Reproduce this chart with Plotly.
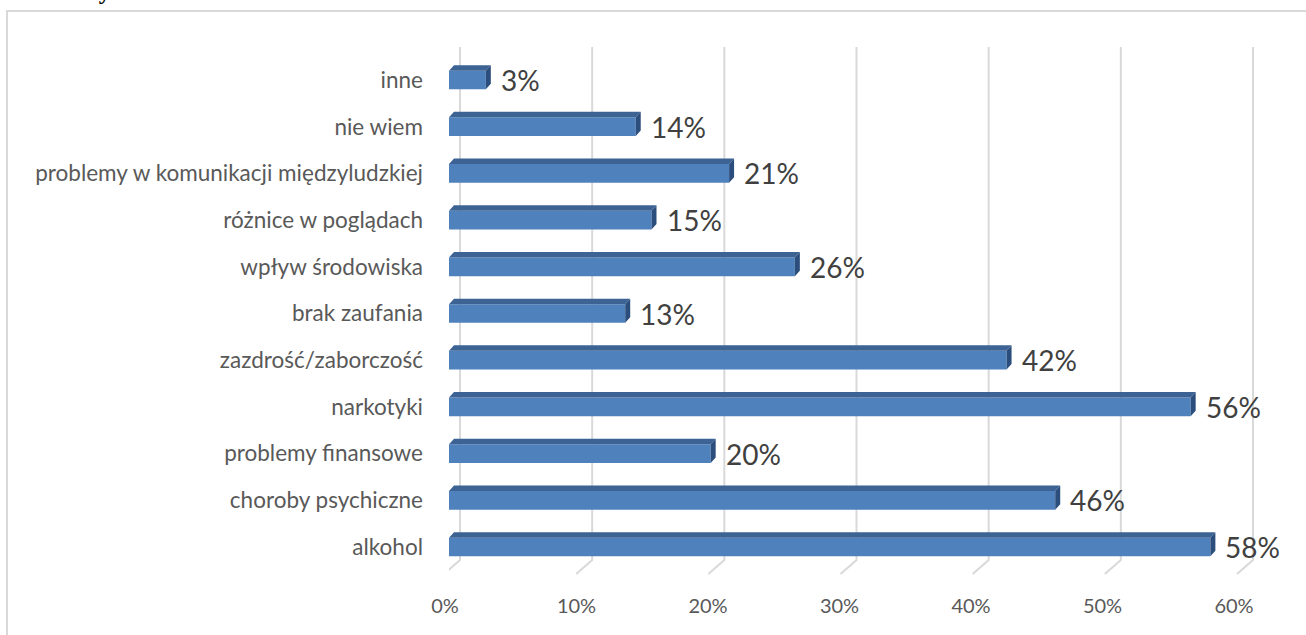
import plotly.graph_objects as go

# data (bottom -> top, as in the chart)
categories = ["alkohol", "choroby psychiczne", "problemy finansowe", "narkotyki",
              "zazdrość/zaborczość", "brak zaufania", "wpływ środowiska",
              "różnice w poglądach", "problemy w komunikacji międzyludzkiej",
              "nie wiem", "inne"]
values = [57.9, 46.1, 19.9, 56.4, 42.4, 13.4, 26.3, 15.4, 21.3, 14.2, 2.8]
x_ticks = [0, 10, 20, 30, 40, 50, 60]
x_tick_labels = [f"{t}%" for t in x_ticks]

W, H = 1306, 635
ML, MR, MT, MB = 449, 0, 12, 61
PW, PH = W - ML - MR, H - MT - MB
PX_PER_PCT = 13.15
PX_PER_CAT = 46.7
Y0_PX = 547  # pixel centre of first category


def xp(px):
    return (px - ML) / PW


def yp(py):
    return (H - MB - py) / PH


FRONT = "#4F81BD"
TOP = "#3C6394"
SIDE = "#2C4E7D"
GRID = "#D9D9D9"

half = 0.2
dx = 5 / PX_PER_PCT
dy = 5.5 / PX_PER_CAT
ys = list(range(len(categories)))

fig = go.Figure()

fig.add_trace(go.Bar(
    x=values, y=ys, orientation="h", width=2 * half,
    marker=dict(color=FRONT, line=dict(width=0)),
    hoverinfo="skip", showlegend=False,
))

# top faces and side faces of the pseudo-3D bars
tx, ty, sx, sy = [], [], [], []
for v, i in zip(values, ys):
    tx += [0, v, v + dx, dx, 0, None]
    ty += [i + half, i + half, i + half + dy, i + half + dy, i + half, None]
    sx += [v, v + dx, v + dx, v, v, None]
    sy += [i + half, i + half + dy, i - half + dy, i - half, i + half, None]

fig.add_trace(go.Scatter(x=tx, y=ty, mode="lines", fill="toself", fillcolor=TOP,
                         line=dict(width=0, color=TOP), hoverinfo="skip", showlegend=False))
fig.add_trace(go.Scatter(x=sx, y=sy, mode="lines", fill="toself", fillcolor=SIDE,
                         line=dict(width=0, color=SIDE), hoverinfo="skip", showlegend=False))

# value labels
for v, i in zip(values, ys):
    fig.add_annotation(x=v + dx, y=i, text=f"{round(v)}%", xanchor="left",
                       xshift=8, showarrow=False,
                       font=dict(family="Lato", size=28, color="#404040"))

# back-wall gridlines with floor diagonals
shapes = []
for t in x_ticks:
    off = 11 + t / 15
    shapes.append(dict(
        type="path", xref="x", yref="paper", xsizemode="pixel", xanchor=t,
        path=f"M {off},{yp(47)} L {off},{yp(560)} L {-5 + t / 15},{yp(574)}",
        line=dict(color=GRID, width=2), layer="below",
    ))

# chart frame
shapes.append(dict(type="rect", xref="paper", yref="paper",
                   x0=xp(7), x1=xp(W + 10), y0=yp(H + 10), y1=yp(11),
                   line=dict(color=GRID, width=2), layer="below"))
fig.update_layout(shapes=shapes)

# cropped heading above the frame
fig.add_annotation(text="<b>młodzieży?</b>", xref="paper", yref="paper",
                   x=xp(6), y=yp(6), xanchor="left", yanchor="bottom",
                   showarrow=False,
                   font=dict(family="Liberation Serif", size=24, color="#000000"))

fig.update_xaxes(
    range=[0, PW / PX_PER_PCT], tickvals=x_ticks, ticktext=x_tick_labels,
    showgrid=False, zeroline=False, showline=False, ticks="",
    tickfont=dict(family="Lato", size=20, color="#595959"),
    ticklabelstandoff=18, ticklabelshift=-4, fixedrange=True,
)
fig.update_yaxes(
    range=[-(H - MB - Y0_PX) / PX_PER_CAT, (Y0_PX - MT) / PX_PER_CAT],
    tickvals=ys, ticktext=categories,
    showgrid=False, zeroline=False, showline=False, ticks="",
    tickfont=dict(family="Lato", size=22.5, color="#595959"),
    ticklabelstandoff=25, fixedrange=True,
)

fig.update_layout(
    width=W, height=H,
    margin=dict(l=ML, r=MR, t=MT, b=MB, autoexpand=False),
    paper_bgcolor="white", plot_bgcolor="white",
    showlegend=False,
)

fig.write_html("out.html", config={"displayModeBar": False},
               post_script="document.body.style.margin='0px';")
